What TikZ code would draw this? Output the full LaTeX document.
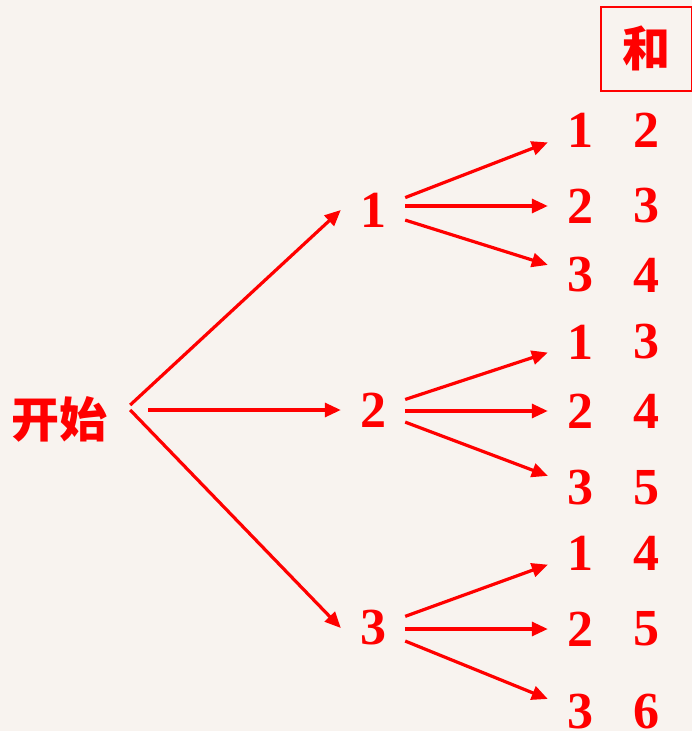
\documentclass[tikz,border=0pt]{standalone}
\usepackage{fontspec}
\setmainfont{Liberation Serif}
\newfontfamily\cjk{Noto Sans CJK SC}
\usetikzlibrary{arrows.meta,positioning}
\definecolor{paper}{RGB}{248,243,239}
\definecolor{ink}{RGB}{255,0,0}

\begin{document}
\begin{tikzpicture}[
    x=1pt, y=-1pt,
    node distance=2pt,
    num/.style={text=ink, font=\fontsize{52}{52}\selectfont\bfseries, minimum width=64pt, minimum height=44pt, inner sep=0pt},
    hanzi/.style={text=ink, font=\cjk\bfseries\fontsize{48}{48}\selectfont, inner sep=0pt},
    headbox/.style={hanzi, draw=ink, line width=2pt, minimum width=91pt, minimum height=84pt},
    flow/.style={-{Triangle[length=16pt,width=14pt]}, draw=ink, line width=3.2pt}
]
\fill[paper] (0,0) rectangle (692,731);
\useasboundingbox (0,0) rectangle (692,731);

\node[hanzi, inner xsep=22pt] (start) at (60,419) {开始};
\node[num] (n1) at (373,210) {1};
\node[num] (n2) at (373,410) {2};
\node[num] (n3) at (373,628) {3};

% choices and sums
\node[num] (a1) at (580,130) {1};
\node[num, right=of a1] (s1) {2};
\node[num] (a2) at (580,206) {2};
\node[num, right=of a2] (s2) {3};
\node[num] (a3) at (580,275) {3};
\node[num, right=of a3] (s3) {4};
\node[num] (a4) at (580,342) {1};
\node[num, right=of a4] (s4) {3};
\node[num] (a5) at (580,411) {2};
\node[num, right=of a5] (s5) {4};
\node[num] (a6) at (580,488) {3};
\node[num, right=of a6] (s6) {5};
\node[num] (a7) at (580,553) {1};
\node[num, right=of a7] (s7) {4};
\node[num] (a8) at (580,629) {2};
\node[num, right=of a8] (s8) {5};
\node[num] (a9) at (580,712) {3};
\node[num, right=of a9] (s9) {6};
\node[headbox, above=16pt of s1] (sumhead) {和};

\draw[flow] ([yshift=14pt]start.east) -- (n1.west);
\draw[flow, shorten <=18pt] ([yshift=9pt]start.east) -- (n2.west);
\draw[flow] ([yshift=9pt]start.east) -- (n3.west);

\draw[flow] (n1) -- (a1);
\draw[flow] (n1.east |- a2) -- (a2);
\draw[flow] (n1) -- (a3);
\draw[flow] (n2) -- (a4);
\draw[flow] (n2.east |- a5) -- (a5);
\draw[flow] (n2) -- (a6);
\draw[flow] (n3) -- (a7);
\draw[flow] (n3.east |- a8) -- (a8);
\draw[flow] (n3) -- (a9);
\end{tikzpicture}
\end{document}
